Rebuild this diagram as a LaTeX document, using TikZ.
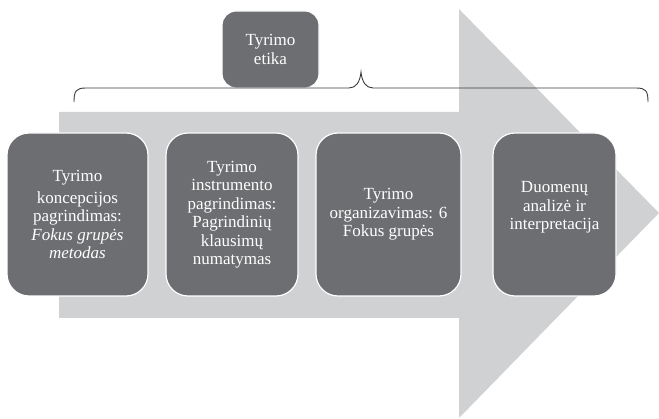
\documentclass[tikz,border=0pt]{standalone}
\usepackage{fontspec}
\setmainfont{Liberation Serif}
\definecolor{boxgrey}{RGB}{109,110,113}
\definecolor{arrowgrey}{RGB}{208,209,211}
\definecolor{bracegrey}{RGB}{60,60,62}
\begin{document}
\begin{tikzpicture}[x=1pt,y=-1pt,
  stage/.style={draw=white, line width=1.2pt, fill=boxgrey, rounded corners=22pt,
    text=white, align=center, font=\fontsize{17}{18.5}\selectfont, inner sep=0pt,
    minimum height=163pt},
  bracestyle/.style={draw=bracegrey, line width=0.9pt}
]
\useasboundingbox (0,0) rectangle (659,419);
% big arrow
\fill[arrowgrey] (59,112) -- (459,112) -- (459,9) -- (659,213) -- (459,418) -- (459,318) -- (59,318) -- cycle;
% stages
\node[stage, minimum width=141pt] (b1) at (77.5,214.5)
  {Tyrimo\\[3pt]koncepcijos\\pagrindimas:\\\itshape Fokus grupės\\\itshape metodas};
\node[stage, minimum width=132pt] (b2) at (232,214.5)
  {Tyrimo\\instrumento\\pagrindimas:\\Pagrindinių\\klausimų\\numatymas};
\node[stage, minimum width=145pt] (b3) at (388.5,214.5)
  {Tyrimo\\organizavimas: 6\\Fokus grupės};
\node[stage, minimum width=123pt] (b4) at (554.5,214.5)
  {Duomenų\\analizė ir\\interpretacija\\[-6pt]\strut};
% ethics box
\node[stage, minimum width=97pt, minimum height=77pt, rounded corners=14pt] (etika) at (270.5,49.5)
  {Tyrimo\\etika};
% brace
\coordinate (brL) at (74,102);
\coordinate (brM) at (361,72);
\coordinate (brR) at (648,102);
\draw[bracestyle] (brL) .. controls (74,91) and (76,88) .. (86,88) -- (349,88)
  .. controls (356,88) and (360,82) .. (brM) .. controls (362,82) and (366,88) .. (373,88)
  -- (636,88) .. controls (646,88) and (648,91) .. (brR);
\end{tikzpicture}
\end{document}
